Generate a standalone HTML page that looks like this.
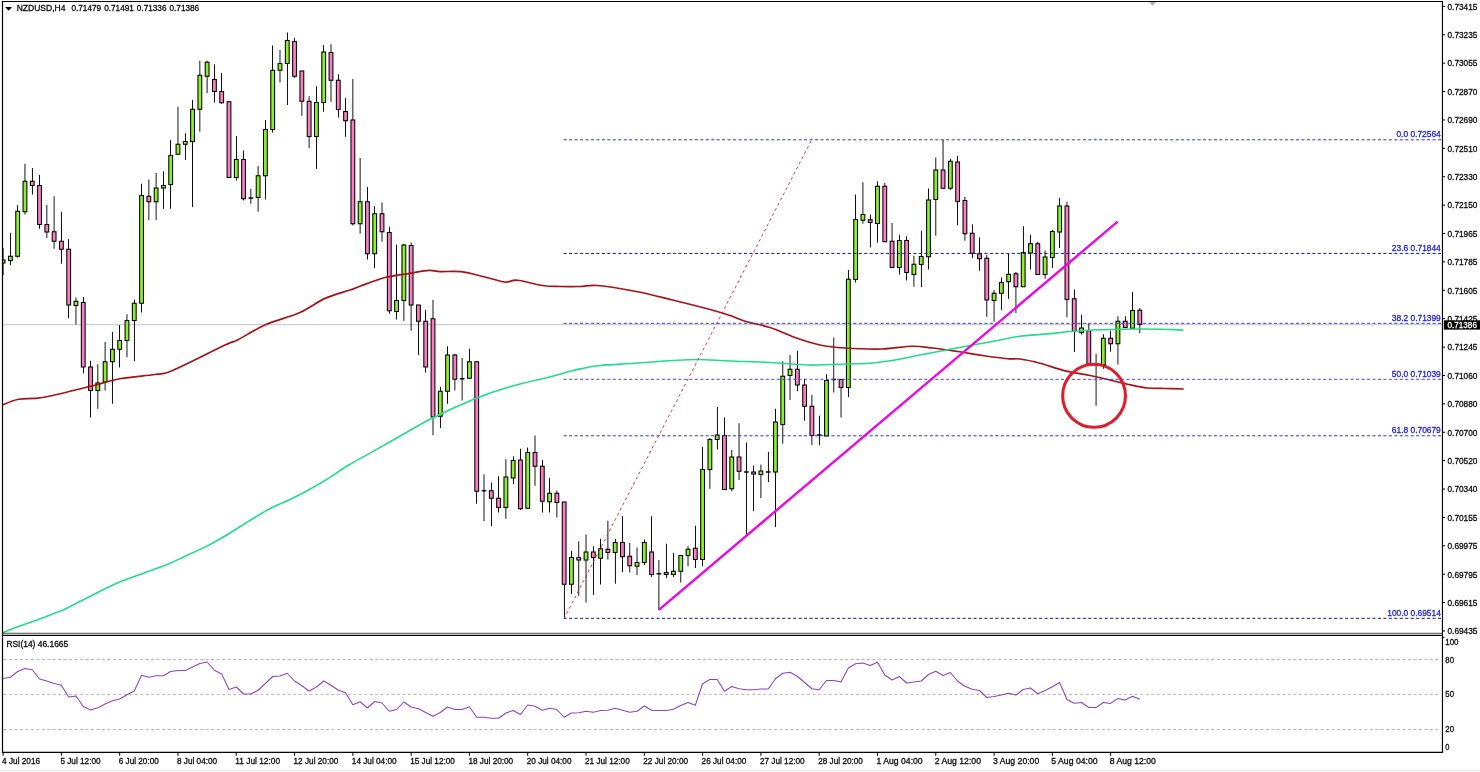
<!DOCTYPE html>
<html lang="en"><head><meta charset="utf-8"><title>NZDUSD H4</title>
<style>html,body{margin:0;padding:0;background:#fff;}body{width:1480px;height:772px;overflow:hidden;}svg{display:block;}text{font-family:"Liberation Sans",sans-serif;font-size:9.0px;fill:#0a0a0a;stroke:#0a0a0a;stroke-width:0.3;}.b{fill:#2424c8;stroke:#2424c8;font-size:8.6px;}.w{fill:#fff;stroke:#fff;}</style></head><body>
<svg width="1480" height="772" viewBox="0 0 1480 772">
<rect x="0" y="0" width="1480" height="772" fill="#fff"/>
<rect x="0" y="770" width="1480" height="1.2" fill="#e6e6e6"/>
<line x1="3.5" y1="324.7" x2="1442" y2="324.7" stroke="#c2c2c2" stroke-width="1"/>
<defs><clipPath id="plot"><rect x="3.1" y="2" width="1439" height="631"/></clipPath></defs>
<g clip-path="url(#plot)">
<line x1="3.10" y1="248.00" x2="3.10" y2="275.00" stroke="#000" stroke-width="0.92"/>
<rect x="1.20" y="260.00" width="3.80" height="3.00" fill="#8cf02a" stroke="#000" stroke-width="1.05"/>
<line x1="10.48" y1="233.00" x2="10.48" y2="265.00" stroke="#000" stroke-width="0.95"/>
<rect x="8.49" y="256.25" width="3.80" height="4.25" fill="#8cf02a" stroke="#000" stroke-width="1.05"/>
<line x1="17.53" y1="205.00" x2="17.53" y2="257.50" stroke="#000" stroke-width="0.95"/>
<rect x="15.77" y="211.25" width="3.80" height="45.00" fill="#8cf02a" stroke="#000" stroke-width="1.05"/>
<line x1="24.96" y1="163.75" x2="24.96" y2="214.50" stroke="#000" stroke-width="0.92"/>
<rect x="23.06" y="181.25" width="3.80" height="30.50" fill="#8cf02a" stroke="#000" stroke-width="1.05"/>
<line x1="32.46" y1="168.00" x2="32.46" y2="194.50" stroke="#000" stroke-width="0.95"/>
<rect x="30.35" y="181.25" width="3.80" height="4.25" fill="#f97ec2" stroke="#000" stroke-width="1.05"/>
<line x1="39.50" y1="175.00" x2="39.50" y2="228.75" stroke="#000" stroke-width="0.95"/>
<rect x="37.63" y="185.50" width="3.80" height="39.00" fill="#f97ec2" stroke="#000" stroke-width="1.05"/>
<line x1="46.82" y1="205.00" x2="46.82" y2="238.00" stroke="#000" stroke-width="0.92"/>
<rect x="44.92" y="224.50" width="3.80" height="7.50" fill="#f97ec2" stroke="#000" stroke-width="1.05"/>
<line x1="54.11" y1="196.25" x2="54.11" y2="248.75" stroke="#000" stroke-width="0.92"/>
<rect x="52.21" y="231.75" width="3.80" height="9.50" fill="#f97ec2" stroke="#000" stroke-width="1.05"/>
<line x1="61.48" y1="212.00" x2="61.48" y2="263.75" stroke="#000" stroke-width="0.95"/>
<rect x="59.49" y="241.25" width="3.80" height="8.00" fill="#f97ec2" stroke="#000" stroke-width="1.05"/>
<line x1="68.53" y1="239.25" x2="68.53" y2="318.25" stroke="#000" stroke-width="0.95"/>
<rect x="66.78" y="249.25" width="3.80" height="55.75" fill="#f97ec2" stroke="#000" stroke-width="1.05"/>
<line x1="75.97" y1="297.50" x2="75.97" y2="324.50" stroke="#000" stroke-width="0.92"/>
<rect x="74.06" y="301.25" width="3.80" height="4.25" fill="#8cf02a" stroke="#000" stroke-width="1.05"/>
<line x1="83.46" y1="297.00" x2="83.46" y2="373.00" stroke="#000" stroke-width="0.95"/>
<rect x="81.35" y="302.50" width="3.80" height="64.50" fill="#f97ec2" stroke="#000" stroke-width="1.05"/>
<line x1="90.51" y1="360.75" x2="90.51" y2="417.50" stroke="#000" stroke-width="0.95"/>
<rect x="88.64" y="367.00" width="3.80" height="23.50" fill="#f97ec2" stroke="#000" stroke-width="1.05"/>
<line x1="97.82" y1="364.25" x2="97.82" y2="408.75" stroke="#000" stroke-width="0.92"/>
<rect x="95.92" y="383.00" width="3.80" height="7.50" fill="#8cf02a" stroke="#000" stroke-width="1.05"/>
<line x1="105.11" y1="342.00" x2="105.11" y2="390.50" stroke="#000" stroke-width="0.92"/>
<rect x="103.21" y="361.75" width="3.80" height="20.25" fill="#8cf02a" stroke="#000" stroke-width="1.05"/>
<line x1="112.48" y1="332.00" x2="112.48" y2="403.75" stroke="#000" stroke-width="0.95"/>
<rect x="110.50" y="349.25" width="3.80" height="12.50" fill="#8cf02a" stroke="#000" stroke-width="1.05"/>
<line x1="119.53" y1="325.00" x2="119.53" y2="367.50" stroke="#000" stroke-width="0.95"/>
<rect x="117.78" y="340.50" width="3.80" height="8.75" fill="#8cf02a" stroke="#000" stroke-width="1.05"/>
<line x1="126.97" y1="314.25" x2="126.97" y2="357.00" stroke="#000" stroke-width="0.92"/>
<rect x="125.07" y="320.50" width="3.80" height="20.00" fill="#8cf02a" stroke="#000" stroke-width="1.05"/>
<line x1="134.46" y1="299.50" x2="134.46" y2="361.25" stroke="#000" stroke-width="0.95"/>
<rect x="132.36" y="303.25" width="3.80" height="17.25" fill="#8cf02a" stroke="#000" stroke-width="1.05"/>
<line x1="141.51" y1="183.75" x2="141.51" y2="312.50" stroke="#000" stroke-width="0.95"/>
<rect x="139.64" y="195.50" width="3.80" height="107.75" fill="#8cf02a" stroke="#000" stroke-width="1.05"/>
<line x1="148.83" y1="179.50" x2="148.83" y2="220.00" stroke="#000" stroke-width="0.92"/>
<rect x="146.93" y="196.25" width="3.80" height="5.50" fill="#f97ec2" stroke="#000" stroke-width="1.05"/>
<line x1="156.12" y1="173.00" x2="156.12" y2="220.00" stroke="#000" stroke-width="0.92"/>
<rect x="154.22" y="188.00" width="3.80" height="13.75" fill="#8cf02a" stroke="#000" stroke-width="1.05"/>
<line x1="163.49" y1="171.25" x2="163.49" y2="208.75" stroke="#000" stroke-width="0.95"/>
<rect x="161.50" y="185.50" width="3.80" height="2.50" fill="#8cf02a" stroke="#000" stroke-width="1.05"/>
<line x1="170.53" y1="140.00" x2="170.53" y2="208.75" stroke="#000" stroke-width="0.95"/>
<rect x="168.79" y="155.50" width="3.80" height="29.00" fill="#8cf02a" stroke="#000" stroke-width="1.05"/>
<line x1="177.98" y1="106.75" x2="177.98" y2="154.50" stroke="#000" stroke-width="0.92"/>
<rect x="176.08" y="144.25" width="3.80" height="10.00" fill="#8cf02a" stroke="#000" stroke-width="1.05"/>
<line x1="185.46" y1="133.25" x2="185.46" y2="160.00" stroke="#000" stroke-width="0.95"/>
<rect x="183.36" y="141.50" width="3.80" height="2.75" fill="#8cf02a" stroke="#000" stroke-width="1.05"/>
<line x1="192.51" y1="100.00" x2="192.51" y2="207.00" stroke="#000" stroke-width="0.95"/>
<rect x="190.65" y="109.25" width="3.80" height="32.25" fill="#8cf02a" stroke="#000" stroke-width="1.05"/>
<line x1="199.84" y1="60.75" x2="199.84" y2="131.75" stroke="#000" stroke-width="0.92"/>
<rect x="197.94" y="75.25" width="3.80" height="34.00" fill="#8cf02a" stroke="#000" stroke-width="1.05"/>
<line x1="207.12" y1="60.75" x2="207.12" y2="93.00" stroke="#000" stroke-width="0.92"/>
<rect x="205.22" y="62.25" width="3.80" height="14.00" fill="#8cf02a" stroke="#000" stroke-width="1.05"/>
<line x1="214.49" y1="64.25" x2="214.49" y2="102.50" stroke="#000" stroke-width="0.95"/>
<rect x="212.51" y="79.50" width="3.80" height="12.00" fill="#f97ec2" stroke="#000" stroke-width="1.05"/>
<line x1="221.53" y1="73.00" x2="221.53" y2="103.75" stroke="#000" stroke-width="0.95"/>
<rect x="219.79" y="91.50" width="3.80" height="11.25" fill="#f97ec2" stroke="#000" stroke-width="1.05"/>
<line x1="228.98" y1="101.75" x2="228.98" y2="177.50" stroke="#000" stroke-width="0.92"/>
<rect x="227.08" y="101.75" width="3.80" height="75.75" fill="#f97ec2" stroke="#000" stroke-width="1.05"/>
<line x1="236.47" y1="136.00" x2="236.47" y2="180.50" stroke="#000" stroke-width="0.95"/>
<rect x="234.37" y="159.50" width="3.80" height="18.00" fill="#8cf02a" stroke="#000" stroke-width="1.05"/>
<line x1="243.51" y1="150.50" x2="243.51" y2="200.50" stroke="#000" stroke-width="0.95"/>
<rect x="241.65" y="159.50" width="3.80" height="39.25" fill="#f97ec2" stroke="#000" stroke-width="1.05"/>
<line x1="250.84" y1="188.75" x2="250.84" y2="203.75" stroke="#000" stroke-width="0.92"/>
<line x1="248.49" y1="198.00" x2="253.19" y2="198.00" stroke="#000" stroke-width="1.45"/>
<line x1="258.13" y1="166.00" x2="258.13" y2="211.75" stroke="#000" stroke-width="0.92"/>
<rect x="256.23" y="175.75" width="3.80" height="21.75" fill="#8cf02a" stroke="#000" stroke-width="1.05"/>
<line x1="265.49" y1="120.00" x2="265.49" y2="199.50" stroke="#000" stroke-width="0.95"/>
<rect x="263.51" y="129.50" width="3.80" height="46.25" fill="#8cf02a" stroke="#000" stroke-width="1.05"/>
<line x1="272.53" y1="45.50" x2="272.53" y2="132.50" stroke="#000" stroke-width="0.95"/>
<rect x="270.80" y="70.25" width="3.80" height="59.25" fill="#8cf02a" stroke="#000" stroke-width="1.05"/>
<line x1="279.99" y1="50.00" x2="279.99" y2="82.50" stroke="#000" stroke-width="0.92"/>
<rect x="278.09" y="63.50" width="3.80" height="6.75" fill="#8cf02a" stroke="#000" stroke-width="1.05"/>
<line x1="287.47" y1="32.50" x2="287.47" y2="105.00" stroke="#000" stroke-width="0.95"/>
<rect x="285.37" y="40.50" width="3.80" height="23.00" fill="#8cf02a" stroke="#000" stroke-width="1.05"/>
<line x1="294.51" y1="38.00" x2="294.51" y2="78.00" stroke="#000" stroke-width="0.95"/>
<rect x="292.66" y="41.50" width="3.80" height="34.75" fill="#f97ec2" stroke="#000" stroke-width="1.05"/>
<line x1="301.85" y1="71.00" x2="301.85" y2="115.75" stroke="#000" stroke-width="0.92"/>
<rect x="299.95" y="71.00" width="3.80" height="30.25" fill="#f97ec2" stroke="#000" stroke-width="1.05"/>
<line x1="309.13" y1="96.25" x2="309.13" y2="148.00" stroke="#000" stroke-width="0.92"/>
<rect x="307.23" y="101.25" width="3.80" height="35.25" fill="#f97ec2" stroke="#000" stroke-width="1.05"/>
<line x1="316.49" y1="86.25" x2="316.49" y2="168.75" stroke="#000" stroke-width="0.95"/>
<rect x="314.52" y="102.50" width="3.80" height="34.00" fill="#8cf02a" stroke="#000" stroke-width="1.05"/>
<line x1="323.53" y1="45.00" x2="323.53" y2="111.75" stroke="#000" stroke-width="0.95"/>
<rect x="321.81" y="52.00" width="3.80" height="50.50" fill="#8cf02a" stroke="#000" stroke-width="1.05"/>
<line x1="330.99" y1="44.25" x2="330.99" y2="101.75" stroke="#000" stroke-width="0.92"/>
<rect x="329.09" y="52.50" width="3.80" height="27.75" fill="#f97ec2" stroke="#000" stroke-width="1.05"/>
<line x1="338.47" y1="74.25" x2="338.47" y2="117.50" stroke="#000" stroke-width="0.95"/>
<rect x="336.38" y="80.25" width="3.80" height="29.25" fill="#f97ec2" stroke="#000" stroke-width="1.05"/>
<line x1="345.51" y1="98.00" x2="345.51" y2="136.75" stroke="#000" stroke-width="0.95"/>
<rect x="343.67" y="111.50" width="3.80" height="9.25" fill="#f97ec2" stroke="#000" stroke-width="1.05"/>
<line x1="352.85" y1="79.00" x2="352.85" y2="225.50" stroke="#000" stroke-width="0.92"/>
<rect x="350.95" y="120.00" width="3.80" height="103.75" fill="#f97ec2" stroke="#000" stroke-width="1.05"/>
<line x1="360.14" y1="158.00" x2="360.14" y2="233.75" stroke="#000" stroke-width="0.92"/>
<rect x="358.24" y="201.75" width="3.80" height="22.00" fill="#8cf02a" stroke="#000" stroke-width="1.05"/>
<line x1="367.49" y1="187.00" x2="367.49" y2="259.50" stroke="#000" stroke-width="0.95"/>
<rect x="365.53" y="201.75" width="3.80" height="52.00" fill="#f97ec2" stroke="#000" stroke-width="1.05"/>
<line x1="374.53" y1="206.25" x2="374.53" y2="268.00" stroke="#000" stroke-width="0.95"/>
<rect x="372.81" y="213.75" width="3.80" height="40.00" fill="#8cf02a" stroke="#000" stroke-width="1.05"/>
<line x1="382.00" y1="202.50" x2="382.00" y2="241.75" stroke="#000" stroke-width="0.92"/>
<rect x="380.10" y="213.75" width="3.80" height="18.00" fill="#f97ec2" stroke="#000" stroke-width="1.05"/>
<line x1="389.47" y1="227.00" x2="389.47" y2="313.75" stroke="#000" stroke-width="0.95"/>
<rect x="387.38" y="232.50" width="3.80" height="78.25" fill="#f97ec2" stroke="#000" stroke-width="1.05"/>
<line x1="396.51" y1="244.50" x2="396.51" y2="319.50" stroke="#000" stroke-width="0.95"/>
<rect x="394.67" y="300.50" width="3.80" height="11.00" fill="#8cf02a" stroke="#000" stroke-width="1.05"/>
<line x1="403.86" y1="243.75" x2="403.86" y2="320.75" stroke="#000" stroke-width="0.92"/>
<rect x="401.96" y="245.00" width="3.80" height="55.50" fill="#8cf02a" stroke="#000" stroke-width="1.05"/>
<line x1="411.14" y1="242.50" x2="411.14" y2="330.75" stroke="#000" stroke-width="0.92"/>
<rect x="409.24" y="245.50" width="3.80" height="59.50" fill="#f97ec2" stroke="#000" stroke-width="1.05"/>
<line x1="418.49" y1="305.00" x2="418.49" y2="355.00" stroke="#000" stroke-width="0.95"/>
<rect x="416.53" y="305.00" width="3.80" height="16.25" fill="#f97ec2" stroke="#000" stroke-width="1.05"/>
<line x1="425.53" y1="310.00" x2="425.53" y2="372.50" stroke="#000" stroke-width="0.95"/>
<rect x="423.82" y="321.25" width="3.80" height="45.75" fill="#f97ec2" stroke="#000" stroke-width="1.05"/>
<line x1="433.00" y1="300.00" x2="433.00" y2="435.00" stroke="#000" stroke-width="0.92"/>
<rect x="431.10" y="318.75" width="3.80" height="98.25" fill="#f97ec2" stroke="#000" stroke-width="1.05"/>
<line x1="440.47" y1="387.00" x2="440.47" y2="428.00" stroke="#000" stroke-width="0.95"/>
<rect x="438.39" y="391.25" width="3.80" height="25.00" fill="#8cf02a" stroke="#000" stroke-width="1.05"/>
<line x1="447.51" y1="346.25" x2="447.51" y2="403.75" stroke="#000" stroke-width="0.95"/>
<rect x="445.68" y="355.00" width="3.80" height="36.25" fill="#8cf02a" stroke="#000" stroke-width="1.05"/>
<line x1="454.86" y1="354.00" x2="454.86" y2="390.50" stroke="#000" stroke-width="0.92"/>
<rect x="452.96" y="355.00" width="3.80" height="24.25" fill="#f97ec2" stroke="#000" stroke-width="1.05"/>
<line x1="462.15" y1="358.00" x2="462.15" y2="400.50" stroke="#000" stroke-width="0.92"/>
<line x1="459.80" y1="378.75" x2="464.50" y2="378.75" stroke="#000" stroke-width="1.45"/>
<line x1="469.49" y1="348.75" x2="469.49" y2="378.25" stroke="#000" stroke-width="0.95"/>
<rect x="467.54" y="361.75" width="3.80" height="16.50" fill="#8cf02a" stroke="#000" stroke-width="1.05"/>
<line x1="476.53" y1="361.75" x2="476.53" y2="503.75" stroke="#000" stroke-width="0.95"/>
<rect x="474.82" y="361.75" width="3.80" height="129.50" fill="#f97ec2" stroke="#000" stroke-width="1.05"/>
<line x1="484.01" y1="474.25" x2="484.01" y2="521.25" stroke="#000" stroke-width="0.92"/>
<line x1="481.66" y1="490.75" x2="486.36" y2="490.75" stroke="#000" stroke-width="1.45"/>
<line x1="491.47" y1="482.50" x2="491.47" y2="526.25" stroke="#000" stroke-width="0.95"/>
<rect x="489.40" y="490.75" width="3.80" height="7.50" fill="#f97ec2" stroke="#000" stroke-width="1.05"/>
<line x1="498.51" y1="476.25" x2="498.51" y2="512.50" stroke="#000" stroke-width="0.95"/>
<rect x="496.68" y="498.25" width="3.80" height="9.25" fill="#f97ec2" stroke="#000" stroke-width="1.05"/>
<line x1="505.87" y1="459.25" x2="505.87" y2="518.75" stroke="#000" stroke-width="0.92"/>
<rect x="503.97" y="477.00" width="3.80" height="30.50" fill="#8cf02a" stroke="#000" stroke-width="1.05"/>
<line x1="513.45" y1="456.25" x2="513.45" y2="484.25" stroke="#000" stroke-width="0.95"/>
<rect x="511.25" y="460.50" width="3.80" height="17.50" fill="#8cf02a" stroke="#000" stroke-width="1.05"/>
<line x1="520.49" y1="448.75" x2="520.49" y2="510.00" stroke="#000" stroke-width="0.95"/>
<rect x="518.54" y="460.00" width="3.80" height="48.75" fill="#f97ec2" stroke="#000" stroke-width="1.05"/>
<line x1="527.53" y1="447.50" x2="527.53" y2="508.25" stroke="#000" stroke-width="0.95"/>
<rect x="525.83" y="452.50" width="3.80" height="55.75" fill="#8cf02a" stroke="#000" stroke-width="1.05"/>
<line x1="535.01" y1="435.50" x2="535.01" y2="485.75" stroke="#000" stroke-width="0.92"/>
<rect x="533.11" y="452.50" width="3.80" height="13.75" fill="#f97ec2" stroke="#000" stroke-width="1.05"/>
<line x1="542.47" y1="460.00" x2="542.47" y2="512.50" stroke="#000" stroke-width="0.95"/>
<rect x="540.40" y="466.25" width="3.80" height="35.00" fill="#f97ec2" stroke="#000" stroke-width="1.05"/>
<line x1="549.51" y1="478.00" x2="549.51" y2="512.50" stroke="#000" stroke-width="0.95"/>
<rect x="547.69" y="493.25" width="3.80" height="8.50" fill="#8cf02a" stroke="#000" stroke-width="1.05"/>
<line x1="556.87" y1="490.50" x2="556.87" y2="517.50" stroke="#000" stroke-width="0.92"/>
<rect x="554.97" y="493.25" width="3.80" height="9.25" fill="#f97ec2" stroke="#000" stroke-width="1.05"/>
<line x1="564.45" y1="502.00" x2="564.45" y2="617.50" stroke="#000" stroke-width="0.95"/>
<rect x="562.26" y="502.00" width="3.80" height="82.25" fill="#f97ec2" stroke="#000" stroke-width="1.05"/>
<line x1="571.49" y1="550.75" x2="571.49" y2="593.75" stroke="#000" stroke-width="0.95"/>
<rect x="569.55" y="557.50" width="3.80" height="26.75" fill="#8cf02a" stroke="#000" stroke-width="1.05"/>
<line x1="578.73" y1="541.25" x2="578.73" y2="595.75" stroke="#000" stroke-width="0.92"/>
<rect x="576.83" y="557.50" width="3.80" height="2.50" fill="#f97ec2" stroke="#000" stroke-width="1.05"/>
<line x1="586.02" y1="534.50" x2="586.02" y2="602.50" stroke="#000" stroke-width="0.92"/>
<rect x="584.12" y="552.00" width="3.80" height="8.00" fill="#8cf02a" stroke="#000" stroke-width="1.05"/>
<line x1="593.47" y1="546.25" x2="593.47" y2="595.00" stroke="#000" stroke-width="0.95"/>
<rect x="591.41" y="552.00" width="3.80" height="5.50" fill="#f97ec2" stroke="#000" stroke-width="1.05"/>
<line x1="600.51" y1="538.75" x2="600.51" y2="584.50" stroke="#000" stroke-width="0.95"/>
<rect x="598.69" y="548.75" width="3.80" height="9.50" fill="#8cf02a" stroke="#000" stroke-width="1.05"/>
<line x1="607.88" y1="520.75" x2="607.88" y2="559.50" stroke="#000" stroke-width="0.92"/>
<rect x="605.98" y="549.25" width="3.80" height="3.25" fill="#f97ec2" stroke="#000" stroke-width="1.05"/>
<line x1="615.45" y1="538.75" x2="615.45" y2="583.75" stroke="#000" stroke-width="0.95"/>
<rect x="613.27" y="542.50" width="3.80" height="10.00" fill="#8cf02a" stroke="#000" stroke-width="1.05"/>
<line x1="622.49" y1="516.25" x2="622.49" y2="572.00" stroke="#000" stroke-width="0.95"/>
<rect x="620.55" y="542.50" width="3.80" height="14.25" fill="#f97ec2" stroke="#000" stroke-width="1.05"/>
<line x1="629.74" y1="543.00" x2="629.74" y2="572.50" stroke="#000" stroke-width="0.92"/>
<rect x="627.84" y="556.25" width="3.80" height="9.50" fill="#f97ec2" stroke="#000" stroke-width="1.05"/>
<line x1="637.03" y1="547.50" x2="637.03" y2="575.00" stroke="#000" stroke-width="0.92"/>
<rect x="635.13" y="562.50" width="3.80" height="3.75" fill="#8cf02a" stroke="#000" stroke-width="1.05"/>
<line x1="644.47" y1="539.50" x2="644.47" y2="565.00" stroke="#000" stroke-width="0.95"/>
<rect x="642.41" y="542.50" width="3.80" height="20.00" fill="#8cf02a" stroke="#000" stroke-width="1.05"/>
<line x1="651.51" y1="516.25" x2="651.51" y2="577.00" stroke="#000" stroke-width="0.95"/>
<rect x="649.70" y="552.00" width="3.80" height="22.50" fill="#f97ec2" stroke="#000" stroke-width="1.05"/>
<line x1="658.88" y1="560.00" x2="658.88" y2="610.00" stroke="#000" stroke-width="0.92"/>
<line x1="656.53" y1="573.75" x2="661.24" y2="573.75" stroke="#000" stroke-width="1.45"/>
<line x1="666.45" y1="543.75" x2="666.45" y2="578.00" stroke="#000" stroke-width="0.95"/>
<rect x="664.27" y="572.50" width="3.80" height="2.00" fill="#f97ec2" stroke="#000" stroke-width="1.05"/>
<line x1="673.49" y1="553.00" x2="673.49" y2="577.00" stroke="#000" stroke-width="0.95"/>
<rect x="671.56" y="571.25" width="3.80" height="3.25" fill="#8cf02a" stroke="#000" stroke-width="1.05"/>
<line x1="680.74" y1="555.00" x2="680.74" y2="582.50" stroke="#000" stroke-width="0.92"/>
<rect x="678.84" y="555.50" width="3.80" height="15.75" fill="#8cf02a" stroke="#000" stroke-width="1.05"/>
<line x1="688.03" y1="546.25" x2="688.03" y2="566.25" stroke="#000" stroke-width="0.92"/>
<rect x="686.13" y="549.25" width="3.80" height="6.25" fill="#8cf02a" stroke="#000" stroke-width="1.05"/>
<line x1="695.47" y1="525.75" x2="695.47" y2="568.00" stroke="#000" stroke-width="0.95"/>
<rect x="693.42" y="548.25" width="3.80" height="11.25" fill="#f97ec2" stroke="#000" stroke-width="1.05"/>
<line x1="702.52" y1="447.00" x2="702.52" y2="566.25" stroke="#000" stroke-width="0.95"/>
<rect x="700.70" y="469.50" width="3.80" height="90.00" fill="#8cf02a" stroke="#000" stroke-width="1.05"/>
<line x1="709.89" y1="438.00" x2="709.89" y2="488.75" stroke="#000" stroke-width="0.92"/>
<rect x="707.99" y="439.50" width="3.80" height="30.00" fill="#8cf02a" stroke="#000" stroke-width="1.05"/>
<line x1="717.45" y1="407.00" x2="717.45" y2="449.50" stroke="#000" stroke-width="0.95"/>
<rect x="715.28" y="435.00" width="3.80" height="4.50" fill="#8cf02a" stroke="#000" stroke-width="1.05"/>
<line x1="724.49" y1="417.50" x2="724.49" y2="489.50" stroke="#000" stroke-width="0.95"/>
<rect x="722.56" y="435.50" width="3.80" height="54.00" fill="#f97ec2" stroke="#000" stroke-width="1.05"/>
<line x1="731.75" y1="450.00" x2="731.75" y2="491.25" stroke="#000" stroke-width="0.92"/>
<rect x="729.85" y="457.00" width="3.80" height="31.75" fill="#8cf02a" stroke="#000" stroke-width="1.05"/>
<line x1="739.04" y1="423.25" x2="739.04" y2="480.00" stroke="#000" stroke-width="0.92"/>
<rect x="737.14" y="457.00" width="3.80" height="14.25" fill="#f97ec2" stroke="#000" stroke-width="1.05"/>
<line x1="746.47" y1="442.50" x2="746.47" y2="535.00" stroke="#000" stroke-width="0.95"/>
<line x1="743.97" y1="472.00" x2="748.67" y2="472.00" stroke="#000" stroke-width="1.45"/>
<line x1="753.52" y1="465.50" x2="753.52" y2="511.00" stroke="#000" stroke-width="0.95"/>
<rect x="751.71" y="472.00" width="3.80" height="2.00" fill="#f97ec2" stroke="#000" stroke-width="1.05"/>
<line x1="760.90" y1="464.50" x2="760.90" y2="498.00" stroke="#000" stroke-width="0.92"/>
<rect x="759.00" y="471.00" width="3.80" height="3.50" fill="#8cf02a" stroke="#000" stroke-width="1.05"/>
<line x1="768.45" y1="452.00" x2="768.45" y2="482.00" stroke="#000" stroke-width="0.95"/>
<line x1="765.83" y1="472.00" x2="770.53" y2="472.00" stroke="#000" stroke-width="1.45"/>
<line x1="775.50" y1="408.75" x2="775.50" y2="527.00" stroke="#000" stroke-width="0.95"/>
<rect x="773.57" y="422.00" width="3.80" height="50.00" fill="#8cf02a" stroke="#000" stroke-width="1.05"/>
<line x1="782.76" y1="361.25" x2="782.76" y2="443.75" stroke="#000" stroke-width="0.92"/>
<rect x="780.86" y="376.25" width="3.80" height="48.25" fill="#8cf02a" stroke="#000" stroke-width="1.05"/>
<line x1="790.04" y1="355.00" x2="790.04" y2="400.00" stroke="#000" stroke-width="0.92"/>
<rect x="788.14" y="369.25" width="3.80" height="6.25" fill="#8cf02a" stroke="#000" stroke-width="1.05"/>
<line x1="797.47" y1="350.75" x2="797.47" y2="391.25" stroke="#000" stroke-width="0.95"/>
<rect x="795.43" y="369.25" width="3.80" height="15.75" fill="#f97ec2" stroke="#000" stroke-width="1.05"/>
<line x1="804.52" y1="378.75" x2="804.52" y2="420.75" stroke="#000" stroke-width="0.95"/>
<rect x="802.72" y="385.00" width="3.80" height="21.25" fill="#f97ec2" stroke="#000" stroke-width="1.05"/>
<line x1="811.90" y1="395.00" x2="811.90" y2="445.00" stroke="#000" stroke-width="0.92"/>
<rect x="810.00" y="406.25" width="3.80" height="29.25" fill="#f97ec2" stroke="#000" stroke-width="1.05"/>
<line x1="819.45" y1="415.75" x2="819.45" y2="445.00" stroke="#000" stroke-width="0.95"/>
<line x1="816.84" y1="435.00" x2="821.54" y2="435.00" stroke="#000" stroke-width="1.45"/>
<line x1="826.50" y1="374.25" x2="826.50" y2="436.00" stroke="#000" stroke-width="0.95"/>
<rect x="824.57" y="380.50" width="3.80" height="55.50" fill="#8cf02a" stroke="#000" stroke-width="1.05"/>
<line x1="833.76" y1="337.50" x2="833.76" y2="392.50" stroke="#000" stroke-width="0.92"/>
<line x1="831.41" y1="379.50" x2="836.11" y2="379.50" stroke="#000" stroke-width="1.45"/>
<line x1="841.05" y1="379.00" x2="841.05" y2="417.50" stroke="#000" stroke-width="0.92"/>
<rect x="839.15" y="379.50" width="3.80" height="8.00" fill="#f97ec2" stroke="#000" stroke-width="1.05"/>
<line x1="848.48" y1="270.00" x2="848.48" y2="397.00" stroke="#000" stroke-width="0.95"/>
<rect x="846.43" y="279.25" width="3.80" height="108.25" fill="#8cf02a" stroke="#000" stroke-width="1.05"/>
<line x1="855.52" y1="194.50" x2="855.52" y2="282.50" stroke="#000" stroke-width="0.95"/>
<rect x="853.72" y="219.50" width="3.80" height="60.00" fill="#8cf02a" stroke="#000" stroke-width="1.05"/>
<line x1="862.91" y1="182.25" x2="862.91" y2="223.75" stroke="#000" stroke-width="0.92"/>
<rect x="861.01" y="214.50" width="3.80" height="5.75" fill="#8cf02a" stroke="#000" stroke-width="1.05"/>
<line x1="870.45" y1="214.50" x2="870.45" y2="247.50" stroke="#000" stroke-width="0.95"/>
<rect x="868.29" y="219.75" width="3.80" height="2.75" fill="#f97ec2" stroke="#000" stroke-width="1.05"/>
<line x1="877.50" y1="181.50" x2="877.50" y2="242.50" stroke="#000" stroke-width="0.95"/>
<rect x="875.58" y="186.25" width="3.80" height="37.25" fill="#8cf02a" stroke="#000" stroke-width="1.05"/>
<line x1="884.77" y1="183.00" x2="884.77" y2="241.75" stroke="#000" stroke-width="0.92"/>
<rect x="882.87" y="186.25" width="3.80" height="55.50" fill="#f97ec2" stroke="#000" stroke-width="1.05"/>
<line x1="892.05" y1="223.00" x2="892.05" y2="267.50" stroke="#000" stroke-width="0.92"/>
<rect x="890.15" y="241.25" width="3.80" height="26.25" fill="#f97ec2" stroke="#000" stroke-width="1.05"/>
<line x1="899.48" y1="235.00" x2="899.48" y2="274.50" stroke="#000" stroke-width="0.95"/>
<rect x="897.44" y="240.50" width="3.80" height="27.00" fill="#8cf02a" stroke="#000" stroke-width="1.05"/>
<line x1="906.52" y1="236.25" x2="906.52" y2="280.50" stroke="#000" stroke-width="0.95"/>
<rect x="904.73" y="240.50" width="3.80" height="32.00" fill="#f97ec2" stroke="#000" stroke-width="1.05"/>
<line x1="913.91" y1="255.75" x2="913.91" y2="286.75" stroke="#000" stroke-width="0.92"/>
<rect x="912.01" y="264.25" width="3.80" height="10.25" fill="#8cf02a" stroke="#000" stroke-width="1.05"/>
<line x1="921.45" y1="230.75" x2="921.45" y2="287.00" stroke="#000" stroke-width="0.95"/>
<rect x="919.30" y="256.50" width="3.80" height="8.00" fill="#8cf02a" stroke="#000" stroke-width="1.05"/>
<line x1="928.50" y1="188.50" x2="928.50" y2="269.50" stroke="#000" stroke-width="0.95"/>
<rect x="926.59" y="200.00" width="3.80" height="56.75" fill="#8cf02a" stroke="#000" stroke-width="1.05"/>
<line x1="935.77" y1="157.50" x2="935.77" y2="235.75" stroke="#000" stroke-width="0.92"/>
<rect x="933.87" y="170.00" width="3.80" height="29.50" fill="#8cf02a" stroke="#000" stroke-width="1.05"/>
<line x1="943.06" y1="140.00" x2="943.06" y2="188.25" stroke="#000" stroke-width="0.92"/>
<rect x="941.16" y="170.00" width="3.80" height="18.25" fill="#f97ec2" stroke="#000" stroke-width="1.05"/>
<line x1="950.48" y1="158.75" x2="950.48" y2="190.00" stroke="#000" stroke-width="0.95"/>
<rect x="948.45" y="161.25" width="3.80" height="27.00" fill="#8cf02a" stroke="#000" stroke-width="1.05"/>
<line x1="957.52" y1="155.75" x2="957.52" y2="225.25" stroke="#000" stroke-width="0.95"/>
<rect x="955.73" y="162.00" width="3.80" height="39.50" fill="#f97ec2" stroke="#000" stroke-width="1.05"/>
<line x1="964.92" y1="197.00" x2="964.92" y2="240.75" stroke="#000" stroke-width="0.92"/>
<rect x="963.02" y="200.50" width="3.80" height="33.25" fill="#f97ec2" stroke="#000" stroke-width="1.05"/>
<line x1="972.46" y1="224.25" x2="972.46" y2="258.00" stroke="#000" stroke-width="0.95"/>
<rect x="970.30" y="233.25" width="3.80" height="20.00" fill="#f97ec2" stroke="#000" stroke-width="1.05"/>
<line x1="979.50" y1="237.50" x2="979.50" y2="270.75" stroke="#000" stroke-width="0.95"/>
<rect x="977.59" y="253.75" width="3.80" height="5.00" fill="#f97ec2" stroke="#000" stroke-width="1.05"/>
<line x1="986.78" y1="255.00" x2="986.78" y2="316.75" stroke="#000" stroke-width="0.92"/>
<rect x="984.88" y="258.25" width="3.80" height="41.75" fill="#f97ec2" stroke="#000" stroke-width="1.05"/>
<line x1="994.06" y1="290.00" x2="994.06" y2="321.75" stroke="#000" stroke-width="0.92"/>
<rect x="992.16" y="293.25" width="3.80" height="7.25" fill="#8cf02a" stroke="#000" stroke-width="1.05"/>
<line x1="1001.48" y1="277.50" x2="1001.48" y2="310.00" stroke="#000" stroke-width="0.95"/>
<rect x="999.45" y="282.50" width="3.80" height="10.75" fill="#8cf02a" stroke="#000" stroke-width="1.05"/>
<line x1="1008.52" y1="253.75" x2="1008.52" y2="298.75" stroke="#000" stroke-width="0.95"/>
<rect x="1006.74" y="274.25" width="3.80" height="7.50" fill="#8cf02a" stroke="#000" stroke-width="1.05"/>
<line x1="1015.92" y1="272.00" x2="1015.92" y2="313.00" stroke="#000" stroke-width="0.92"/>
<rect x="1014.02" y="273.75" width="3.80" height="13.00" fill="#f97ec2" stroke="#000" stroke-width="1.05"/>
<line x1="1023.46" y1="226.25" x2="1023.46" y2="286.75" stroke="#000" stroke-width="0.95"/>
<rect x="1021.31" y="252.50" width="3.80" height="34.25" fill="#8cf02a" stroke="#000" stroke-width="1.05"/>
<line x1="1030.50" y1="235.00" x2="1030.50" y2="269.50" stroke="#000" stroke-width="0.95"/>
<rect x="1028.60" y="243.75" width="3.80" height="9.25" fill="#8cf02a" stroke="#000" stroke-width="1.05"/>
<line x1="1037.78" y1="242.00" x2="1037.78" y2="274.50" stroke="#000" stroke-width="0.92"/>
<rect x="1035.88" y="243.75" width="3.80" height="30.75" fill="#f97ec2" stroke="#000" stroke-width="1.05"/>
<line x1="1045.07" y1="250.50" x2="1045.07" y2="278.75" stroke="#000" stroke-width="0.92"/>
<rect x="1043.17" y="257.00" width="3.80" height="17.50" fill="#8cf02a" stroke="#000" stroke-width="1.05"/>
<line x1="1052.48" y1="229.75" x2="1052.48" y2="268.00" stroke="#000" stroke-width="0.95"/>
<rect x="1050.46" y="231.50" width="3.80" height="26.00" fill="#8cf02a" stroke="#000" stroke-width="1.05"/>
<line x1="1059.52" y1="198.00" x2="1059.52" y2="248.00" stroke="#000" stroke-width="0.95"/>
<rect x="1057.74" y="206.00" width="3.80" height="26.00" fill="#8cf02a" stroke="#000" stroke-width="1.05"/>
<line x1="1066.93" y1="202.00" x2="1066.93" y2="317.25" stroke="#000" stroke-width="0.92"/>
<rect x="1065.03" y="206.00" width="3.80" height="93.50" fill="#f97ec2" stroke="#000" stroke-width="1.05"/>
<line x1="1074.46" y1="289.50" x2="1074.46" y2="352.00" stroke="#000" stroke-width="0.95"/>
<rect x="1072.32" y="298.75" width="3.80" height="32.50" fill="#f97ec2" stroke="#000" stroke-width="1.05"/>
<line x1="1081.50" y1="315.00" x2="1081.50" y2="334.50" stroke="#000" stroke-width="0.95"/>
<rect x="1079.60" y="328.00" width="3.80" height="4.50" fill="#8cf02a" stroke="#000" stroke-width="1.05"/>
<line x1="1088.79" y1="323.75" x2="1088.79" y2="363.75" stroke="#000" stroke-width="0.92"/>
<rect x="1086.89" y="330.75" width="3.80" height="33.00" fill="#f97ec2" stroke="#000" stroke-width="1.05"/>
<line x1="1096.08" y1="353.75" x2="1096.08" y2="405.75" stroke="#000" stroke-width="0.92"/>
<line x1="1093.73" y1="364.80" x2="1098.42" y2="364.80" stroke="#000" stroke-width="1.45"/>
<line x1="1103.48" y1="334.25" x2="1103.48" y2="368.75" stroke="#000" stroke-width="0.95"/>
<rect x="1101.46" y="338.25" width="3.80" height="26.25" fill="#8cf02a" stroke="#000" stroke-width="1.05"/>
<line x1="1110.52" y1="330.75" x2="1110.52" y2="351.75" stroke="#000" stroke-width="0.95"/>
<rect x="1108.75" y="338.25" width="3.80" height="5.50" fill="#f97ec2" stroke="#000" stroke-width="1.05"/>
<line x1="1117.93" y1="316.25" x2="1117.93" y2="364.50" stroke="#000" stroke-width="0.92"/>
<rect x="1116.03" y="321.25" width="3.80" height="22.50" fill="#8cf02a" stroke="#000" stroke-width="1.05"/>
<line x1="1125.46" y1="316.25" x2="1125.46" y2="327.50" stroke="#000" stroke-width="0.95"/>
<rect x="1123.32" y="321.25" width="3.80" height="6.25" fill="#f97ec2" stroke="#000" stroke-width="1.05"/>
<line x1="1132.50" y1="292.00" x2="1132.50" y2="328.25" stroke="#000" stroke-width="0.95"/>
<rect x="1130.61" y="310.50" width="3.80" height="17.75" fill="#8cf02a" stroke="#000" stroke-width="1.05"/>
<line x1="1139.79" y1="308.00" x2="1139.79" y2="333.00" stroke="#000" stroke-width="0.92"/>
<rect x="1137.89" y="310.25" width="3.80" height="14.25" fill="#f97ec2" stroke="#000" stroke-width="1.05"/>
</g>
<path d="M2.50 405.00C5.21 404.04 12.08 400.50 18.75 399.25C25.42 398.00 31.04 399.54 42.50 397.50C53.96 395.46 74.58 390.12 87.50 387.00C100.42 383.88 108.75 380.83 120.00 378.75C131.25 376.67 146.25 375.88 155.00 374.50C163.75 373.12 160.83 375.42 172.50 370.50C184.17 365.58 214.17 350.08 225.00 345.00C235.83 339.92 230.83 343.33 237.50 340.00C244.17 336.67 254.58 329.58 265.00 325.00C275.42 320.42 290.00 316.93 300.00 312.50C310.00 308.07 316.67 302.15 325.00 298.40C333.33 294.65 344.17 292.02 350.00 290.00C355.83 287.98 354.17 288.33 360.00 286.25C365.83 284.17 376.67 279.66 385.00 277.50C393.33 275.34 402.67 274.48 410.00 273.30C417.33 272.12 424.00 270.68 429.00 270.40C434.00 270.12 434.67 271.38 440.00 271.60C445.33 271.82 453.50 270.80 461.00 271.70C468.50 272.60 477.67 275.28 485.00 277.00C492.33 278.72 499.58 281.46 505.00 282.00C510.42 282.54 511.25 279.67 517.50 280.25C523.75 280.83 535.42 284.46 542.50 285.50C549.58 286.54 553.75 286.33 560.00 286.50C566.25 286.67 573.75 286.67 580.00 286.50C586.25 286.33 588.33 284.71 597.50 285.50C606.67 286.29 622.50 288.83 635.00 291.25C647.50 293.67 660.00 296.96 672.50 300.00C685.00 303.04 700.42 306.92 710.00 309.50C719.58 312.08 724.17 313.54 730.00 315.50C735.83 317.46 738.33 319.25 745.00 321.25C751.67 323.25 761.67 324.79 770.00 327.50C778.33 330.21 786.67 334.58 795.00 337.50C803.33 340.42 811.67 343.25 820.00 345.00C828.33 346.75 834.58 347.33 845.00 348.00C855.42 348.67 871.33 349.29 882.50 349.00C893.67 348.71 903.67 346.42 912.00 346.25C920.33 346.08 924.92 347.12 932.50 348.00C940.08 348.88 949.17 350.25 957.50 351.50C965.83 352.75 974.17 354.29 982.50 355.50C990.83 356.71 1001.25 358.17 1007.50 358.75C1013.75 359.33 1014.58 358.26 1020.00 359.00C1025.42 359.74 1032.50 361.23 1040.00 363.20C1047.50 365.17 1056.67 368.75 1065.00 370.80C1073.33 372.85 1081.67 373.76 1090.00 375.50C1098.33 377.24 1108.75 379.79 1115.00 381.25C1121.25 382.71 1122.08 383.12 1127.50 384.25C1132.92 385.38 1141.25 387.29 1147.50 388.00C1153.75 388.71 1158.96 388.33 1165.00 388.50C1171.04 388.67 1180.62 388.92 1183.75 389.00" fill="none" stroke="#a61216" stroke-width="1.7" stroke-linejoin="round" stroke-linecap="butt"/>
<path d="M2.50 633.00C4.88 632.01 11.60 629.02 16.80 627.05C22.00 625.08 26.12 624.01 33.70 621.20C41.28 618.39 56.13 612.70 62.30 610.20C68.47 607.70 65.37 608.87 70.70 606.20C76.03 603.53 86.45 598.10 94.30 594.20C102.15 590.30 109.95 586.17 117.80 582.80C125.65 579.43 132.97 577.15 141.40 574.00C149.83 570.85 161.13 566.85 168.40 563.90C175.67 560.95 178.58 559.27 185.00 556.30C191.42 553.33 200.45 549.35 206.90 546.10C213.35 542.85 217.53 540.45 223.70 536.80C229.87 533.15 236.32 528.83 243.90 524.20C251.48 519.57 261.62 513.07 269.20 509.00C276.78 504.93 283.23 502.75 289.40 499.80C295.57 496.85 300.03 494.67 306.20 491.30C312.37 487.93 319.38 483.94 326.40 479.60C333.42 475.26 341.03 469.67 348.30 465.25C355.57 460.83 361.80 457.73 370.00 453.10C378.20 448.48 387.08 443.35 397.50 437.50C407.92 431.65 419.58 424.46 432.50 418.00C445.42 411.54 462.08 403.96 475.00 398.75C487.92 393.54 497.92 390.29 510.00 386.75C522.08 383.21 537.77 380.01 547.50 377.50C557.23 374.99 562.98 373.13 568.40 371.70C573.82 370.27 574.73 369.93 580.00 368.90C585.27 367.87 590.83 366.44 600.00 365.50C609.17 364.56 622.92 364.08 635.00 363.25C647.08 362.42 662.08 361.12 672.50 360.50C682.92 359.88 687.92 359.42 697.50 359.50C707.08 359.58 717.92 360.50 730.00 361.00C742.08 361.50 757.08 361.83 770.00 362.50C782.92 363.17 797.08 364.67 807.50 365.00C817.92 365.33 822.08 364.79 832.50 364.50C842.92 364.21 859.58 364.00 870.00 363.25C880.42 362.50 886.67 361.38 895.00 360.00C903.33 358.62 911.67 356.62 920.00 355.00C928.33 353.38 936.67 351.83 945.00 350.25C953.33 348.67 961.67 347.04 970.00 345.50C978.33 343.96 986.67 342.54 995.00 341.00C1003.33 339.46 1011.67 337.40 1020.00 336.25C1028.33 335.10 1036.05 334.93 1045.00 334.10C1053.95 333.28 1065.00 332.02 1073.70 331.30C1082.40 330.58 1089.48 330.15 1097.20 329.80C1104.92 329.45 1112.70 329.33 1120.00 329.20C1127.30 329.07 1134.33 329.00 1141.00 329.00C1147.67 329.00 1154.38 329.10 1160.00 329.20C1165.62 329.30 1170.80 329.43 1174.70 329.60C1178.60 329.77 1181.95 330.10 1183.40 330.20" fill="none" stroke="#20dc8c" stroke-width="1.6" stroke-linejoin="round" stroke-linecap="butt"/>
<line x1="563.6" y1="139.80" x2="1441.8" y2="139.80" stroke="#3838b0" stroke-width="1" stroke-dasharray="3.1 2.365"/>
<line x1="563.6" y1="253.40" x2="1441.8" y2="253.40" stroke="#15158a" stroke-width="1" stroke-dasharray="3.1 2.365"/>
<line x1="563.6" y1="323.30" x2="1441.8" y2="323.30" stroke="#3838d0" stroke-width="1" stroke-dasharray="3.1 2.365"/>
<line x1="563.6" y1="379.30" x2="1441.8" y2="379.30" stroke="#4848dc" stroke-width="1" stroke-dasharray="3.1 2.365"/>
<line x1="563.6" y1="435.80" x2="1441.8" y2="435.80" stroke="#3434b8" stroke-width="1" stroke-dasharray="3.1 2.365"/>
<line x1="563.6" y1="618.30" x2="1441.8" y2="618.30" stroke="#15158a" stroke-width="1" stroke-dasharray="3.1 2.365"/>
<line x1="564.6" y1="617.6" x2="811.6" y2="140" stroke="#d02838" stroke-width="0.9" stroke-dasharray="2.9 2.917" stroke-dashoffset="1.45"/>
<line x1="658.9" y1="609.8" x2="1117.6" y2="221.7" stroke="#ec06e0" stroke-width="2.4" stroke-linecap="butt"/>
<ellipse cx="1094.05" cy="395.8" rx="31.4" ry="31.5" fill="none" stroke="#de1e2a" stroke-width="3.1"/>
<text x="1396.40" y="137.10" textLength="44.40" lengthAdjust="spacingAndGlyphs" class="b">0.0 0.72564</text>
<text x="1391.85" y="250.70" textLength="48.95" lengthAdjust="spacingAndGlyphs" class="b">23.6 0.71844</text>
<text x="1391.85" y="320.60" textLength="48.95" lengthAdjust="spacingAndGlyphs" class="b">38.2 0.71399</text>
<text x="1391.85" y="376.60" textLength="48.95" lengthAdjust="spacingAndGlyphs" class="b">50.0 0.71039</text>
<text x="1391.85" y="433.10" textLength="48.95" lengthAdjust="spacingAndGlyphs" class="b">61.8 0.70679</text>
<text x="1387.30" y="615.60" textLength="53.50" lengthAdjust="spacingAndGlyphs" class="b">100.0 0.69514</text>
<line x1="3.6" y1="659.50" x2="1439.5" y2="659.50" stroke="#b4b4b4" stroke-width="1" stroke-dasharray="2.9 2.565"/>
<line x1="3.6" y1="694.40" x2="1439.5" y2="694.40" stroke="#b4b4b4" stroke-width="1" stroke-dasharray="2.9 2.565"/>
<line x1="3.6" y1="729.50" x2="1439.5" y2="729.50" stroke="#b4b4b4" stroke-width="1" stroke-dasharray="2.9 2.565"/>
<polyline points="3.10,678.50 10.39,677.25 17.67,671.50 24.96,668.50 32.25,669.75 39.53,679.00 46.82,681.00 54.11,683.50 61.39,685.25 68.68,697.00 75.97,696.00 83.25,706.50 90.54,710.00 97.82,707.75 105.11,704.00 112.40,700.75 119.68,699.00 126.97,694.75 134.26,691.00 141.54,675.25 148.83,677.25 156.12,675.75 163.40,675.75 170.69,671.50 177.98,670.50 185.26,670.50 192.55,667.00 199.84,663.50 207.12,662.00 214.41,670.25 221.69,674.00 228.98,689.50 236.27,687.00 243.55,694.00 250.84,694.00 258.13,690.25 265.41,683.50 272.70,676.50 279.99,676.00 287.27,673.25 294.56,681.00 301.85,685.75 309.13,691.00 316.42,687.00 323.71,681.00 330.99,685.25 338.28,690.25 345.57,692.75 352.85,704.75 360.14,701.75 367.43,708.00 374.71,701.50 382.00,703.00 389.28,711.25 396.57,709.50 403.86,702.00 411.14,707.00 418.43,708.75 425.72,712.50 433.00,716.25 440.29,712.50 447.58,707.00 454.86,709.50 462.15,709.50 469.44,706.75 476.72,717.25 484.01,717.25 491.30,718.25 498.58,718.25 505.87,713.00 513.15,710.50 520.44,714.50 527.73,705.00 535.01,706.25 542.30,710.25 549.59,708.25 556.87,709.50 564.16,717.25 571.45,713.00 578.73,712.75 586.02,711.25 593.31,712.25 600.59,710.50 607.88,710.25 615.17,708.25 622.45,710.25 629.74,712.25 637.03,711.25 644.31,706.00 651.60,710.25 658.88,710.50 666.17,710.50 673.46,709.25 680.74,705.50 688.03,702.50 695.32,705.25 702.60,683.75 709.89,679.50 717.18,679.50 724.46,691.25 731.75,686.50 739.04,688.75 746.32,689.75 753.61,689.75 760.90,689.00 768.18,689.00 775.47,678.75 782.76,673.25 790.04,672.25 797.33,676.25 804.62,682.50 811.90,688.75 819.19,689.75 826.47,680.50 833.76,680.50 841.05,682.00 848.33,668.00 855.62,663.75 862.91,663.00 870.19,665.50 877.48,662.25 884.77,675.00 892.05,680.00 899.34,676.50 906.63,683.00 913.91,682.00 921.20,681.00 928.49,674.50 935.77,671.25 943.06,675.50 950.35,672.50 957.63,681.25 964.92,686.25 972.20,689.25 979.49,690.50 986.78,697.50 994.06,696.50 1001.35,695.00 1008.64,693.25 1015.92,695.00 1023.21,689.50 1030.50,688.00 1037.78,693.75 1045.07,690.50 1052.36,686.75 1059.64,682.50 1066.93,699.50 1074.22,703.25 1081.50,702.50 1088.79,707.50 1096.08,707.60 1103.36,702.50 1110.65,703.40 1117.93,698.40 1125.22,700.00 1132.51,696.20 1139.79,699.30" fill="none" stroke="#9040c0" stroke-width="1.05" stroke-linejoin="round" stroke-linecap="butt"/>
<polygon points="1148.6,1.5 1156.4,1.5 1152.5,6.1" fill="#b4b4b4"/>
<line x1="1.9" y1="1.5" x2="1443" y2="1.5" stroke="#000" stroke-width="1.1"/>
<line x1="2.5" y1="1" x2="2.5" y2="752.8" stroke="#000" stroke-width="1.2"/>
<line x1="1442.45" y1="1" x2="1442.45" y2="752.8" stroke="#000" stroke-width="1.15"/>
<line x1="1.9" y1="633.25" x2="1443" y2="633.25" stroke="#303030" stroke-width="0.85"/>
<line x1="1.9" y1="635.4" x2="1443" y2="635.4" stroke="#000" stroke-width="1.15"/>
<line x1="1.9" y1="752.42" x2="1443.2" y2="752.42" stroke="#000" stroke-width="1.12"/>
<line x1="1442.5" y1="6.40" x2="1445" y2="6.40" stroke="#000" stroke-width="1"/>
<text x="1447.50" y="9.70" textLength="29.90" lengthAdjust="spacingAndGlyphs">0.73415</text>
<line x1="1442.5" y1="34.79" x2="1445" y2="34.79" stroke="#000" stroke-width="1"/>
<text x="1447.50" y="38.09" textLength="29.90" lengthAdjust="spacingAndGlyphs">0.73235</text>
<line x1="1442.5" y1="63.18" x2="1445" y2="63.18" stroke="#000" stroke-width="1"/>
<text x="1447.50" y="66.48" textLength="29.90" lengthAdjust="spacingAndGlyphs">0.73055</text>
<line x1="1442.5" y1="91.57" x2="1445" y2="91.57" stroke="#000" stroke-width="1"/>
<text x="1447.50" y="94.87" textLength="29.90" lengthAdjust="spacingAndGlyphs">0.72870</text>
<line x1="1442.5" y1="119.96" x2="1445" y2="119.96" stroke="#000" stroke-width="1"/>
<text x="1447.50" y="123.26" textLength="29.90" lengthAdjust="spacingAndGlyphs">0.72690</text>
<line x1="1442.5" y1="148.35" x2="1445" y2="148.35" stroke="#000" stroke-width="1"/>
<text x="1447.50" y="151.65" textLength="29.90" lengthAdjust="spacingAndGlyphs">0.72510</text>
<line x1="1442.5" y1="176.74" x2="1445" y2="176.74" stroke="#000" stroke-width="1"/>
<text x="1447.50" y="180.04" textLength="29.90" lengthAdjust="spacingAndGlyphs">0.72330</text>
<line x1="1442.5" y1="205.13" x2="1445" y2="205.13" stroke="#000" stroke-width="1"/>
<text x="1447.50" y="208.43" textLength="29.90" lengthAdjust="spacingAndGlyphs">0.72150</text>
<line x1="1442.5" y1="233.52" x2="1445" y2="233.52" stroke="#000" stroke-width="1"/>
<text x="1447.50" y="236.82" textLength="29.90" lengthAdjust="spacingAndGlyphs">0.71965</text>
<line x1="1442.5" y1="261.91" x2="1445" y2="261.91" stroke="#000" stroke-width="1"/>
<text x="1447.50" y="265.21" textLength="29.90" lengthAdjust="spacingAndGlyphs">0.71785</text>
<line x1="1442.5" y1="290.30" x2="1445" y2="290.30" stroke="#000" stroke-width="1"/>
<text x="1447.50" y="293.60" textLength="29.90" lengthAdjust="spacingAndGlyphs">0.71605</text>
<line x1="1442.5" y1="318.69" x2="1445" y2="318.69" stroke="#000" stroke-width="1"/>
<text x="1447.50" y="321.99" textLength="29.90" lengthAdjust="spacingAndGlyphs">0.71425</text>
<line x1="1442.5" y1="347.08" x2="1445" y2="347.08" stroke="#000" stroke-width="1"/>
<text x="1447.50" y="350.38" textLength="29.90" lengthAdjust="spacingAndGlyphs">0.71245</text>
<line x1="1442.5" y1="375.47" x2="1445" y2="375.47" stroke="#000" stroke-width="1"/>
<text x="1447.50" y="378.77" textLength="29.90" lengthAdjust="spacingAndGlyphs">0.71060</text>
<line x1="1442.5" y1="403.86" x2="1445" y2="403.86" stroke="#000" stroke-width="1"/>
<text x="1447.50" y="407.16" textLength="29.90" lengthAdjust="spacingAndGlyphs">0.70880</text>
<line x1="1442.5" y1="432.25" x2="1445" y2="432.25" stroke="#000" stroke-width="1"/>
<text x="1447.50" y="435.55" textLength="29.90" lengthAdjust="spacingAndGlyphs">0.70700</text>
<line x1="1442.5" y1="460.64" x2="1445" y2="460.64" stroke="#000" stroke-width="1"/>
<text x="1447.50" y="463.94" textLength="29.90" lengthAdjust="spacingAndGlyphs">0.70520</text>
<line x1="1442.5" y1="489.03" x2="1445" y2="489.03" stroke="#000" stroke-width="1"/>
<text x="1447.50" y="492.33" textLength="29.90" lengthAdjust="spacingAndGlyphs">0.70340</text>
<line x1="1442.5" y1="517.42" x2="1445" y2="517.42" stroke="#000" stroke-width="1"/>
<text x="1447.50" y="520.72" textLength="29.90" lengthAdjust="spacingAndGlyphs">0.70155</text>
<line x1="1442.5" y1="545.81" x2="1445" y2="545.81" stroke="#000" stroke-width="1"/>
<text x="1447.50" y="549.11" textLength="29.90" lengthAdjust="spacingAndGlyphs">0.69975</text>
<line x1="1442.5" y1="574.20" x2="1445" y2="574.20" stroke="#000" stroke-width="1"/>
<text x="1447.50" y="577.50" textLength="29.90" lengthAdjust="spacingAndGlyphs">0.69795</text>
<line x1="1442.5" y1="602.59" x2="1445" y2="602.59" stroke="#000" stroke-width="1"/>
<text x="1447.50" y="605.89" textLength="29.90" lengthAdjust="spacingAndGlyphs">0.69615</text>
<line x1="1442.5" y1="630.98" x2="1445" y2="630.98" stroke="#000" stroke-width="1"/>
<text x="1447.50" y="634.28" textLength="29.90" lengthAdjust="spacingAndGlyphs">0.69435</text>
<rect x="1443.8" y="320.3" width="36.2" height="9.3" fill="#000"/>
<text x="1447.60" y="328.10" textLength="29.30" lengthAdjust="spacingAndGlyphs" class="w">0.71386</text>
<text x="1445.30" y="644.80" textLength="13.25" lengthAdjust="spacingAndGlyphs">100</text>
<text x="1445.30" y="662.70" textLength="8.70" lengthAdjust="spacingAndGlyphs">80</text>
<text x="1445.30" y="697.30" textLength="8.70" lengthAdjust="spacingAndGlyphs">50</text>
<text x="1445.30" y="732.40" textLength="8.70" lengthAdjust="spacingAndGlyphs">20</text>
<text x="1445.30" y="749.80" textLength="4.15" lengthAdjust="spacingAndGlyphs">0</text>
<line x1="1442.5" y1="637.4" x2="1444.6" y2="637.4" stroke="#000" stroke-width="0.9"/>
<line x1="3.10" y1="752.5" x2="3.10" y2="755.8" stroke="#000" stroke-width="1"/>
<text x="2.10" y="763.70" textLength="38.00" lengthAdjust="spacingAndGlyphs">4 Jul 2016</text>
<line x1="61.39" y1="752.5" x2="61.39" y2="755.8" stroke="#000" stroke-width="1"/>
<text x="60.39" y="763.70" textLength="40.20" lengthAdjust="spacingAndGlyphs">5 Jul 12:00</text>
<line x1="119.68" y1="752.5" x2="119.68" y2="755.8" stroke="#000" stroke-width="1"/>
<text x="118.68" y="763.70" textLength="40.20" lengthAdjust="spacingAndGlyphs">6 Jul 20:00</text>
<line x1="177.98" y1="752.5" x2="177.98" y2="755.8" stroke="#000" stroke-width="1"/>
<text x="176.98" y="763.70" textLength="40.20" lengthAdjust="spacingAndGlyphs">8 Jul 04:00</text>
<line x1="236.27" y1="752.5" x2="236.27" y2="755.8" stroke="#000" stroke-width="1"/>
<text x="235.27" y="763.70" textLength="44.75" lengthAdjust="spacingAndGlyphs">11 Jul 12:00</text>
<line x1="294.56" y1="752.5" x2="294.56" y2="755.8" stroke="#000" stroke-width="1"/>
<text x="293.56" y="763.70" textLength="44.75" lengthAdjust="spacingAndGlyphs">12 Jul 20:00</text>
<line x1="352.85" y1="752.5" x2="352.85" y2="755.8" stroke="#000" stroke-width="1"/>
<text x="351.85" y="763.70" textLength="44.75" lengthAdjust="spacingAndGlyphs">14 Jul 04:00</text>
<line x1="411.14" y1="752.5" x2="411.14" y2="755.8" stroke="#000" stroke-width="1"/>
<text x="410.14" y="763.70" textLength="44.75" lengthAdjust="spacingAndGlyphs">15 Jul 12:00</text>
<line x1="469.44" y1="752.5" x2="469.44" y2="755.8" stroke="#000" stroke-width="1"/>
<text x="468.44" y="763.70" textLength="44.75" lengthAdjust="spacingAndGlyphs">18 Jul 20:00</text>
<line x1="527.73" y1="752.5" x2="527.73" y2="755.8" stroke="#000" stroke-width="1"/>
<text x="526.73" y="763.70" textLength="44.75" lengthAdjust="spacingAndGlyphs">20 Jul 04:00</text>
<line x1="586.02" y1="752.5" x2="586.02" y2="755.8" stroke="#000" stroke-width="1"/>
<text x="585.02" y="763.70" textLength="44.75" lengthAdjust="spacingAndGlyphs">21 Jul 12:00</text>
<line x1="644.31" y1="752.5" x2="644.31" y2="755.8" stroke="#000" stroke-width="1"/>
<text x="643.31" y="763.70" textLength="44.75" lengthAdjust="spacingAndGlyphs">22 Jul 20:00</text>
<line x1="702.60" y1="752.5" x2="702.60" y2="755.8" stroke="#000" stroke-width="1"/>
<text x="701.60" y="763.70" textLength="44.75" lengthAdjust="spacingAndGlyphs">26 Jul 04:00</text>
<line x1="760.90" y1="752.5" x2="760.90" y2="755.8" stroke="#000" stroke-width="1"/>
<text x="759.90" y="763.70" textLength="44.75" lengthAdjust="spacingAndGlyphs">27 Jul 12:00</text>
<line x1="819.19" y1="752.5" x2="819.19" y2="755.8" stroke="#000" stroke-width="1"/>
<text x="818.19" y="763.70" textLength="44.75" lengthAdjust="spacingAndGlyphs">28 Jul 20:00</text>
<line x1="877.48" y1="752.5" x2="877.48" y2="755.8" stroke="#000" stroke-width="1"/>
<text x="876.48" y="763.70" textLength="46.20" lengthAdjust="spacingAndGlyphs">1 Aug 04:00</text>
<line x1="935.77" y1="752.5" x2="935.77" y2="755.8" stroke="#000" stroke-width="1"/>
<text x="934.77" y="763.70" textLength="46.20" lengthAdjust="spacingAndGlyphs">2 Aug 12:00</text>
<line x1="994.06" y1="752.5" x2="994.06" y2="755.8" stroke="#000" stroke-width="1"/>
<text x="993.06" y="763.70" textLength="46.20" lengthAdjust="spacingAndGlyphs">3 Aug 20:00</text>
<line x1="1052.36" y1="752.5" x2="1052.36" y2="755.8" stroke="#000" stroke-width="1"/>
<text x="1051.36" y="763.70" textLength="46.20" lengthAdjust="spacingAndGlyphs">5 Aug 04:00</text>
<line x1="1110.65" y1="752.5" x2="1110.65" y2="755.8" stroke="#000" stroke-width="1"/>
<text x="1109.65" y="763.70" textLength="46.20" lengthAdjust="spacingAndGlyphs">8 Aug 12:00</text>
<polygon points="5.1,6.9 12.0,6.9 8.55,10.75" fill="#000"/>
<text y="11.1"><tspan x="16.7" textLength="48.8" lengthAdjust="spacingAndGlyphs">NZDUSD,H4</tspan> <tspan x="71.4" textLength="29.7" lengthAdjust="spacingAndGlyphs">0.71479</tspan> <tspan x="104.2" textLength="29.7" lengthAdjust="spacingAndGlyphs">0.71491</tspan> <tspan x="136.8" textLength="29.7" lengthAdjust="spacingAndGlyphs">0.71336</tspan> <tspan x="169.5" textLength="29.7" lengthAdjust="spacingAndGlyphs">0.71386</tspan></text>
<text x="6.40" y="646.50" textLength="61.80" lengthAdjust="spacingAndGlyphs">RSI(14) 46.1665</text>
</svg></body></html>
